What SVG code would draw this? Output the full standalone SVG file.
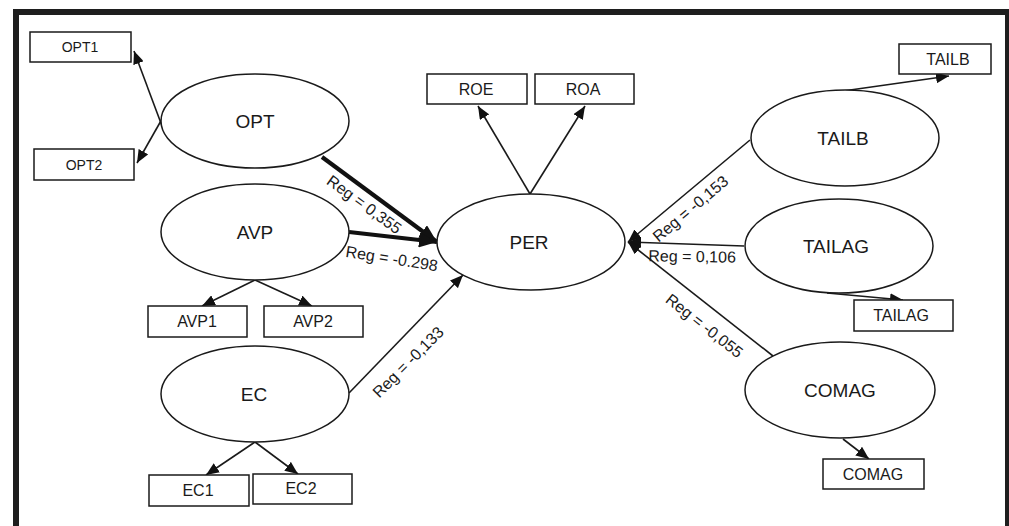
<svg xmlns="http://www.w3.org/2000/svg" width="1009" height="526" viewBox="0 0 1009 526">
<style>
text{font-family:"Liberation Sans",Arial,sans-serif;fill:#1a1a1a}
.box{fill:#fff;stroke:#1a1a1a;stroke-width:1.5}
.ell{fill:#fff;stroke:#1a1a1a;stroke-width:1.5}
.bl{font-size:16px;text-anchor:middle}
.sl{font-size:14px;text-anchor:middle}
.el{font-size:19px;text-anchor:middle}
.rl{font-size:16px;text-anchor:middle}
.c{stroke:#1a1a1a;stroke-width:1.6;fill:none;marker-end:url(#ah)}
.ct{stroke:#111;stroke-width:4.2;fill:none;marker-end:url(#ahb)}
</style>
<defs>
<marker id="ah" markerUnits="userSpaceOnUse" markerWidth="13" markerHeight="11" refX="13" refY="5.5" orient="auto" viewBox="0 0 13 11"><path d="M0,0 L13,5.5 L0,11 z" fill="#111"/></marker>
<marker id="ahb" markerUnits="userSpaceOnUse" markerWidth="18" markerHeight="15" refX="18" refY="7.5" orient="auto" viewBox="0 0 18 15"><path d="M0,0 L18,7.5 L0,15 z" fill="#111"/></marker>
</defs>
<rect width="1009" height="526" fill="#fff"/>
<path d="M16,526 V12 H1008 V526" fill="none" stroke="#1e1e1e" stroke-width="6"/>

<g id="connectors">
<line class="c" x1="162" y1="126" x2="134" y2="51"/>
<line class="c" x1="162" y1="119" x2="137" y2="163"/>
<line class="c" x1="255" y1="280" x2="202" y2="306"/>
<line class="c" x1="255" y1="280" x2="312" y2="306"/>
<line class="c" x1="255" y1="442" x2="206" y2="475"/>
<line class="c" x1="255" y1="442" x2="298" y2="474"/>
<line class="c" x1="530" y1="194" x2="478" y2="106"/>
<line class="c" x1="530" y1="194" x2="585" y2="106"/>
<line class="ct" x1="322" y1="157" x2="437" y2="242"/>
<line class="ct" x1="349" y1="232" x2="437" y2="242"/>
<line class="c" x1="349" y1="393" x2="463" y2="275"/>
<line class="c" x1="750" y1="140" x2="628" y2="242"/>
<line class="c" x1="744" y1="246" x2="628" y2="242"/>
<line class="c" x1="773" y1="356" x2="628" y2="242"/>
<line class="c" x1="843" y1="91" x2="949" y2="76"/>
<line class="c" x1="827" y1="293" x2="903" y2="300"/>
<line class="c" x1="843" y1="439" x2="869" y2="459"/>
<text class="rl" transform="translate(361,209) rotate(36)">Reg = 0,355</text>
<text class="rl" transform="translate(391,264) rotate(9)">Reg = -0.298</text>
<text class="rl" transform="translate(412,366) rotate(-45)">Reg = -0,133</text>
<text class="rl" transform="translate(694,213) rotate(-40)">Reg = -0,153</text>
<text class="rl" transform="translate(692,262) rotate(1)">Reg = 0,106</text>
<text class="rl" transform="translate(701,330) rotate(38)">Reg = -0,055</text>
</g>

<g id="OPT1"><rect class="box" x="30" y="32" width="101" height="30"/><text class="sl" x="80" y="52">OPT1</text></g>
<g id="OPT2"><rect class="box" x="34" y="149" width="100" height="31"/><text class="sl" x="84" y="170">OPT2</text></g>
<g id="OPT"><ellipse class="ell" cx="255" cy="121" rx="94" ry="47"/><text class="el" x="255" y="128">OPT</text></g>
<g id="AVP"><ellipse class="ell" cx="255" cy="232" rx="94" ry="48"/><text class="el" x="255" y="239">AVP</text></g>
<g id="AVP1"><rect class="box" x="148" y="306" width="99" height="31"/><text class="bl" x="197" y="327">AVP1</text></g>
<g id="AVP2"><rect class="box" x="264" y="306" width="99" height="31"/><text class="bl" x="313" y="327">AVP2</text></g>
<g id="EC"><ellipse class="ell" cx="255" cy="394" rx="94" ry="48"/><text class="el" x="254" y="401">EC</text></g>
<g id="EC1"><rect class="box" x="149" y="475" width="100" height="31"/><text class="bl" x="198" y="496">EC1</text></g>
<g id="EC2"><rect class="box" x="253" y="474" width="99" height="30"/><text class="bl" x="301" y="494">EC2</text></g>
<g id="ROE"><rect class="box" x="427" y="74" width="100" height="30"/><text class="bl" x="476" y="95">ROE</text></g>
<g id="ROA"><rect class="box" x="535" y="74" width="99" height="30"/><text class="bl" x="583" y="95">ROA</text></g>
<g id="PER"><ellipse class="ell" cx="531" cy="242" rx="94" ry="48"/><text class="el" x="529" y="249">PER</text></g>
<g id="TAILB_box"><rect class="box" x="899" y="44" width="92" height="30"/><text class="bl" x="948" y="65">TAILB</text></g>
<g id="TAILB"><ellipse class="ell" cx="845" cy="138" rx="94" ry="48"/><text class="el" x="843" y="145">TAILB</text></g>
<g id="TAILAG"><ellipse class="ell" cx="839" cy="246" rx="94" ry="47"/><text class="el" x="836" y="253">TAILAG</text></g>
<g id="TAILAG_box"><rect class="box" x="854" y="300" width="99" height="31"/><text class="bl" x="901" y="321">TAILAG</text></g>
<g id="COMAG"><ellipse class="ell" cx="840" cy="390" rx="95" ry="48"/><text class="el" x="840" y="397">COMAG</text></g>
<g id="COMAG_box"><rect class="box" x="823" y="459" width="101" height="30"/><text class="bl" x="873" y="480">COMAG</text></g>
</svg>
